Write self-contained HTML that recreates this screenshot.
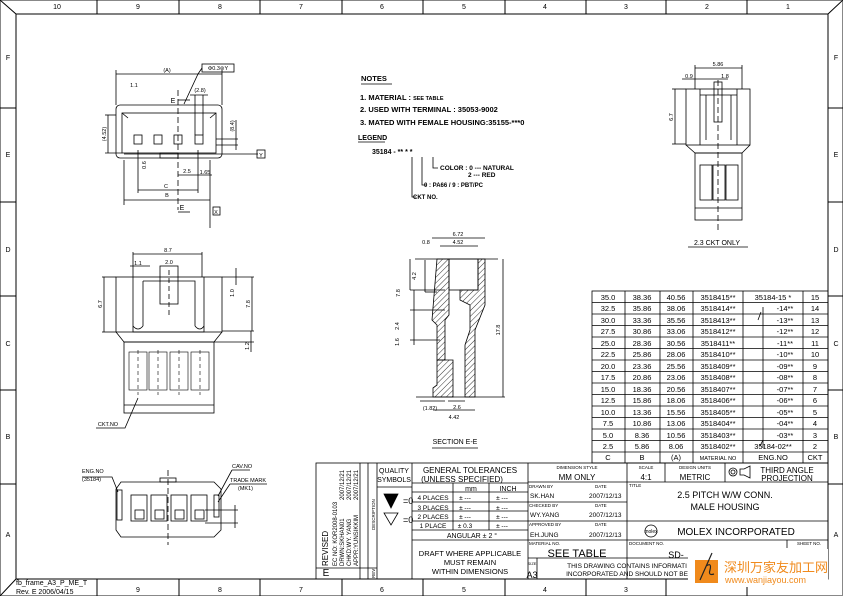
<!DOCTYPE html>
<html><head><meta charset="utf-8"><style>
html,body{margin:0;padding:0;background:#fff;}
svg{display:block;font-family:"Liberation Sans",sans-serif;}
text{fill:#000;}
</style></head><body>
<svg width="843" height="596" viewBox="0 0 843 596" xmlns="http://www.w3.org/2000/svg">
<defs>
<pattern id="h" width="4" height="4" patternUnits="userSpaceOnUse" patternTransform="rotate(45)"><line x1="0" y1="0" x2="0" y2="4" stroke="#000" stroke-width="0.8"/></pattern>
</defs>
<g stroke="#000" fill="none" stroke-width="1">
<rect x="0.5" y="0.5" width="842" height="595" stroke="#888"/>
<rect x="16" y="14" width="812" height="565"/>
<line x1="0" y1="0" x2="16" y2="14"/><line x1="843" y1="0" x2="828" y2="14"/>
<line x1="0" y1="596" x2="16" y2="579"/>
<line x1="97" y1="0" x2="97" y2="14"/><line x1="179" y1="0" x2="179" y2="14"/><line x1="260" y1="0" x2="260" y2="14"/><line x1="342" y1="0" x2="342" y2="14"/><line x1="423" y1="0" x2="423" y2="14"/><line x1="505" y1="0" x2="505" y2="14"/><line x1="586" y1="0" x2="586" y2="14"/><line x1="666" y1="0" x2="666" y2="14"/><line x1="747" y1="0" x2="747" y2="14"/>
<line x1="97" y1="579" x2="97" y2="596"/><line x1="179" y1="579" x2="179" y2="596"/><line x1="260" y1="579" x2="260" y2="596"/><line x1="342" y1="579" x2="342" y2="596"/><line x1="423" y1="579" x2="423" y2="596"/><line x1="505" y1="579" x2="505" y2="596"/><line x1="586" y1="579" x2="586" y2="596"/><line x1="666" y1="579" x2="666" y2="596"/><line x1="747" y1="579" x2="747" y2="596"/>
<line x1="0" y1="108" x2="16" y2="108"/><line x1="0" y1="202" x2="16" y2="202"/><line x1="0" y1="296" x2="16" y2="296"/><line x1="0" y1="390" x2="16" y2="390"/><line x1="0" y1="484" x2="16" y2="484"/>
<line x1="828" y1="108" x2="843" y2="108"/><line x1="828" y1="202" x2="843" y2="202"/><line x1="828" y1="296" x2="843" y2="296"/><line x1="828" y1="390" x2="843" y2="390"/><line x1="828" y1="484" x2="843" y2="484"/>
</g>
<g font-size="7" text-anchor="middle">
<text x="57" y="9">10</text><text x="138" y="9">9</text><text x="220" y="9">8</text><text x="301" y="9">7</text><text x="382" y="9">6</text><text x="464" y="9">5</text><text x="545" y="9">4</text><text x="626" y="9">3</text><text x="707" y="9">2</text><text x="788" y="9">1</text>
<text x="138" y="592">9</text><text x="220" y="592">8</text><text x="301" y="592">7</text><text x="382" y="592">6</text><text x="464" y="592">5</text><text x="545" y="592">4</text><text x="626" y="592">3</text>
<text x="8" y="60">F</text><text x="8" y="157">E</text><text x="8" y="252">D</text><text x="8" y="346">C</text><text x="8" y="439">B</text><text x="8" y="537">A</text>
<text x="836" y="60">F</text><text x="836" y="157">E</text><text x="836" y="252">D</text><text x="836" y="346">C</text><text x="836" y="439">B</text><text x="836" y="537">A</text>
</g>
<text x="16" y="585" font-size="7">fb_frame_A3_P_ME_T</text>
<text x="16" y="594" font-size="7">Rev. E 2006/04/15</text>

<g font-size="7.5" font-weight="bold">
<text x="361" y="81">NOTES</text>
<text x="360" y="100">1. MATERIAL : <tspan font-size="5.5">SEE TABLE</tspan></text>
<text x="360" y="112">2. USED WITH TERMINAL : 35053-9002</text>
<text x="360" y="125">3. MATED WITH FEMALE HOUSING:35155-***0</text>
<text x="358" y="140" font-size="7">LEGEND</text>
<text x="372" y="154" font-size="7">35184 - ** * *</text>
<text x="440" y="170" font-size="6.5">COLOR : 0 --- NATURAL</text>
<text x="468" y="177" font-size="6.5">2 --- RED</text>
<text x="424" y="187" font-size="6">0 : PA66 / 9 : PBT/PC</text>
<text x="413" y="199" font-size="6">CKT NO.</text>
</g>
<g stroke="#000" fill="none" stroke-width="0.8">
<line x1="361" y1="84" x2="392" y2="84"/><line x1="358" y1="142" x2="385" y2="142"/>
<polyline points="433,157 433,168 438,168"/>
<polyline points="422,157 422,185 427,185"/><polyline points="412,157 412,197 416,197"/>
</g>

<g stroke="#000" fill="none" stroke-width="0.8">
<rect x="116" y="105" width="106" height="53" rx="4"/>
<rect x="122" y="113" width="94" height="40"/>
<line x1="122" y1="113" x2="128" y2="118"/><line x1="216" y1="113" x2="210" y2="118"/>
<rect x="134" y="135" width="8" height="9"/><rect x="154" y="135" width="8" height="9"/><rect x="174" y="135" width="8" height="9"/><rect x="195" y="135" width="8" height="9"/>
<rect x="160" y="153" width="18" height="5"/>
<line x1="178" y1="90" x2="178" y2="210" stroke-dasharray="6,3"/>
<line x1="116" y1="74" x2="222" y2="74"/><line x1="116" y1="70" x2="116" y2="105"/><line x1="222" y1="70" x2="222" y2="105"/>
<line x1="105" y1="115" x2="116" y2="115"/><line x1="108" y1="115" x2="108" y2="153"/><line x1="105" y1="153" x2="122" y2="153"/>
<line x1="124" y1="154" x2="258" y2="154"/>
<line x1="124" y1="200" x2="210" y2="200"/><line x1="124" y1="160" x2="124" y2="205"/><line x1="210" y1="160" x2="210" y2="228"/>
<line x1="138" y1="190" x2="198" y2="190"/><line x1="138" y1="150" x2="138" y2="193"/><line x1="198" y1="150" x2="198" y2="193"/>
<line x1="178" y1="175" x2="212" y2="175"/>
<line x1="216" y1="139" x2="238" y2="139"/><line x1="216" y1="145" x2="238" y2="145"/><line x1="236" y1="120" x2="236" y2="150"/>
<line x1="195" y1="95" x2="195" y2="135"/><line x1="203" y1="95" x2="203" y2="135"/><line x1="190" y1="95" x2="208" y2="95"/>
<polyline points="184,104 198,74 202,68"/>
<rect x="202" y="64" width="32" height="8"/>
<rect x="213" y="207" width="7" height="8"/><rect x="257" y="150" width="8" height="8"/>
<line x1="178" y1="212" x2="190" y2="212"/><line x1="178" y1="100" x2="190" y2="100"/>
</g>
<g font-size="5.5" text-anchor="middle">
<text x="167" y="72">(A)</text><text x="218" y="70">Φ0.3⊚Y</text><text x="134" y="87">1.1</text><text x="200" y="92">(2.8)</text>
<text x="173" y="103" font-size="7">E</text><text x="182" y="210" font-size="7">E</text>
<text x="167" y="197">B</text><text x="166" y="188">C</text><text x="187" y="173">2.5</text><text x="205" y="174">1.65</text>
<text x="261" y="157">Y</text><text x="216" y="214">X</text>
<text x="106" y="134" transform="rotate(-90 106 134)">(4.52)</text>
<text x="234" y="126" transform="rotate(-90 234 126)">(8.4)</text>
<text x="146" y="165" transform="rotate(-90 146 165)">0.6</text>
</g>

<g stroke="#000" fill="none" stroke-width="0.8">
<rect x="116" y="277" width="106" height="55"/>
<path d="M133 277 V332 H204 V277"/>
<path d="M143 281 H195 V326 M143 281 V326 M133 326 Q138 332 143 326 M195 326 Q200 332 204 326"/>
<rect x="160" y="266" width="18" height="38"/>
<line x1="169" y1="270" x2="169" y2="315" stroke-dasharray="5,3"/>
<path d="M116 332 L124 342 H214 L222 332"/>
<rect x="124" y="342" width="90" height="71"/>
<line x1="124" y1="405" x2="214" y2="405"/>
<g stroke-width="0.6">
<rect x="129" y="352" width="18" height="38"/><rect x="149" y="352" width="18" height="38"/><rect x="170" y="352" width="18" height="38"/><rect x="191" y="352" width="18" height="38"/>
<line x1="138" y1="350" x2="138" y2="395" stroke-dasharray="4,3"/><line x1="158" y1="350" x2="158" y2="395" stroke-dasharray="4,3"/><line x1="179" y1="350" x2="179" y2="395" stroke-dasharray="4,3"/><line x1="200" y1="350" x2="200" y2="395" stroke-dasharray="4,3"/>
</g>
<line x1="133" y1="254" x2="202" y2="254"/><line x1="133" y1="252" x2="133" y2="277"/><line x1="202" y1="252" x2="202" y2="277"/>
<line x1="130" y1="266" x2="150" y2="266"/>
<line x1="102" y1="277" x2="116" y2="277"/><line x1="102" y1="332" x2="116" y2="332"/><line x1="104" y1="277" x2="104" y2="332"/>
<line x1="222" y1="277" x2="254" y2="277"/><line x1="222" y1="331" x2="254" y2="331"/><line x1="252" y1="277" x2="252" y2="331"/>
<line x1="214" y1="342" x2="254" y2="342"/><line x1="251" y1="331" x2="251" y2="352"/><line x1="236" y1="268" x2="236" y2="285"/>
<polyline points="96,428 125,428 138,398"/>
</g>
<g font-size="5.5" text-anchor="middle">
<text x="168" y="252">8.7</text><text x="138" y="265">1.1</text><text x="169" y="264">2.0</text>
<text x="102" y="304" transform="rotate(-90 102 304)">6.7</text>
<text x="250" y="304" transform="rotate(-90 250 304)">7.8</text>
<text x="234" y="293" transform="rotate(-90 234 293)">1.0</text>
<text x="249" y="346" transform="rotate(-90 249 346)">1.2</text>
<text x="108" y="426">CKT.NO</text>
</g>

<g stroke="#000" stroke-width="0.8">
<path d="M437 259 H449 V315 L445 320 V360 H437 V325 L432 320 Z" fill="url(#h)"/>
<path d="M478 259 H485 V305 L475 330 V397 H465 L465 345 L470 330 L470 305 L460 300 V290 H478 Z" fill="url(#h)"/>
<path d="M445 360 H453 V397 H433 V388 L437 385 V360 Z" fill="url(#h)"/>
<rect x="449" y="259" width="29" height="31" fill="none"/>
<line x1="415" y1="259" x2="498" y2="259" fill="none"/>
<line x1="416" y1="397" x2="505" y2="397" fill="none"/>
<line x1="432" y1="238" x2="485" y2="238"/><line x1="440" y1="246" x2="478" y2="246"/>
<line x1="503" y1="259" x2="503" y2="397"/>
<line x1="410" y1="259" x2="410" y2="290"/><line x1="410" y1="290" x2="445" y2="290"/>
<line x1="414" y1="290" x2="414" y2="345"/><line x1="410" y1="310" x2="445" y2="310"/><line x1="410" y1="340" x2="440" y2="340"/>
<line x1="425" y1="260" x2="425" y2="292"/><line x1="425" y1="292" x2="437" y2="292"/>
<line x1="433" y1="410" x2="475" y2="410"/><line x1="448" y1="401" x2="465" y2="401"/><line x1="420" y1="401" x2="445" y2="401"/>
<line x1="432" y1="448" x2="478" y2="448"/>
</g>
<g font-size="5.5" text-anchor="middle">
<text x="458" y="236">6.72</text><text x="458" y="244">4.52</text><text x="426" y="244">0.8</text>
<text x="416" y="276" transform="rotate(-90 416 276)">4.2</text>
<text x="400" y="293" transform="rotate(-90 400 293)">7.8</text>
<text x="399" y="326" transform="rotate(-90 399 326)">2.4</text>
<text x="399" y="342" transform="rotate(-90 399 342)">1.6</text>
<text x="500" y="330" transform="rotate(-90 500 330)">17.8</text>
<text x="430" y="410">(1.82)</text><text x="457" y="409">2.6</text><text x="454" y="419">4.42</text>
<text x="455" y="444" font-size="7">SECTION E-E</text>
</g>

<g stroke="#000" fill="none" stroke-width="0.8">
<rect x="686" y="89" width="64" height="56"/>
<path d="M700 89 V145 M737 89 V145 M700 95 H737 M706 95 V140 M731 95 V140"/>
<rect x="714" y="82" width="8" height="40"/>
<line x1="718" y1="80" x2="718" y2="230" stroke-dasharray="6,3"/>
<path d="M686 145 L695 153 H742 L750 145"/>
<rect x="695" y="153" width="47" height="67"/><line x1="695" y1="208" x2="742" y2="208"/>
<rect x="700" y="165" width="12" height="35"/><rect x="713" y="165" width="12" height="35"/><rect x="726" y="165" width="12" height="35"/>
<line x1="695" y1="68" x2="742" y2="68"/><line x1="695" y1="65" x2="695" y2="89"/><line x1="742" y1="65" x2="742" y2="89"/>
<line x1="682" y1="79" x2="728" y2="79"/>
<line x1="672" y1="89" x2="686" y2="89"/><line x1="672" y1="144" x2="686" y2="144"/><line x1="675" y1="89" x2="675" y2="144"/>
<line x1="688" y1="247" x2="748" y2="247"/>
</g>
<g font-size="5.5" text-anchor="middle">
<text x="718" y="66">5.86</text><text x="689" y="78">0.9</text><text x="725" y="78">1.8</text>
<text x="673" y="117" transform="rotate(-90 673 117)">6.7</text>
<text x="717" y="245" font-size="7">2.3 CKT ONLY</text>
</g>

<g stroke="#000" fill="none" stroke-width="0.8">
<path d="M121 482 H214 L221 489 V530 L214 537 H121 L116 530 V489 Z"/>
<rect x="160" y="478" width="16" height="4"/>
<rect x="117" y="490" width="5" height="30"/><rect x="214" y="495" width="5" height="22"/>
<rect x="131" y="495" width="16" height="26"/><rect x="151" y="495" width="16" height="26"/><rect x="171" y="495" width="16" height="26"/><rect x="191" y="495" width="16" height="26"/>
<rect x="135" y="510" width="9" height="9"/><rect x="155" y="510" width="9" height="9"/><rect x="175" y="510" width="9" height="9"/><rect x="195" y="510" width="9" height="9"/>
<line x1="168" y1="470" x2="168" y2="545" stroke-dasharray="6,3"/>
<polyline points="82,477 112,477 118,492"/><polyline points="232,470 250,470"/><line x1="232" y1="470" x2="218" y2="496"/>
<polyline points="230,484 267,484"/><line x1="230" y1="484" x2="218" y2="502"/>
<line x1="205" y1="510" x2="238" y2="510"/><line x1="205" y1="523" x2="238" y2="523"/><line x1="235" y1="505" x2="235" y2="528"/>
</g>
<g font-size="5.5">
<text x="82" y="473">ENG.NO</text><text x="82" y="481">(35184)</text>
<text x="232" y="468">CAV.NO</text><text x="230" y="482">TRADE MARK</text><text x="238" y="490">(MK1)</text>
</g>

<g stroke="#000" fill="none" stroke-width="0.8">
<rect x="592" y="291" width="236" height="172"/>
<line x1="625" y1="291" x2="625" y2="463"/><line x1="660" y1="291" x2="660" y2="463"/><line x1="693" y1="291" x2="693" y2="463"/><line x1="743" y1="291" x2="743" y2="463"/><line x1="803" y1="291" x2="803" y2="463"/>
<path d="M592 302.5H828M592 314H828M592 325.5H828M592 337H828M592 348.5H828M592 360H828M592 371.5H828M592 383H828M592 394.5H828M592 406H828M592 417.5H828M592 429H828M592 440.5H828M592 452H828"/>
<line x1="761" y1="312" x2="758" y2="320"/><line x1="763" y1="307" x2="763" y2="448"/><line x1="763" y1="440" x2="760" y2="446"/>
</g>
<g font-size="7.5" text-anchor="middle">
<text x="608" y="300">35.0</text><text x="642" y="300">38.36</text><text x="676" y="300">40.56</text><text x="718" y="300">3518415**</text><text x="773" y="300">35184-15 *</text><text x="815" y="300">15</text>
<text x="608" y="311">32.5</text><text x="642" y="311">35.86</text><text x="676" y="311">38.06</text><text x="718" y="311">3518414**</text><text x="785" y="311">-14**</text><text x="815" y="311">14</text>
<text x="608" y="323">30.0</text><text x="642" y="323">33.36</text><text x="676" y="323">35.56</text><text x="718" y="323">3518413**</text><text x="785" y="323">-13**</text><text x="815" y="323">13</text>
<text x="608" y="334">27.5</text><text x="642" y="334">30.86</text><text x="676" y="334">33.06</text><text x="718" y="334">3518412**</text><text x="785" y="334">-12**</text><text x="815" y="334">12</text>
<text x="608" y="346">25.0</text><text x="642" y="346">28.36</text><text x="676" y="346">30.56</text><text x="718" y="346">3518411**</text><text x="785" y="346">-11**</text><text x="815" y="346">11</text>
<text x="608" y="357">22.5</text><text x="642" y="357">25.86</text><text x="676" y="357">28.06</text><text x="718" y="357">3518410**</text><text x="785" y="357">-10**</text><text x="815" y="357">10</text>
<text x="608" y="369">20.0</text><text x="642" y="369">23.36</text><text x="676" y="369">25.56</text><text x="718" y="369">3518409**</text><text x="785" y="369">-09**</text><text x="815" y="369">9</text>
<text x="608" y="380">17.5</text><text x="642" y="380">20.86</text><text x="676" y="380">23.06</text><text x="718" y="380">3518408**</text><text x="785" y="380">-08**</text><text x="815" y="380">8</text>
<text x="608" y="392">15.0</text><text x="642" y="392">18.36</text><text x="676" y="392">20.56</text><text x="718" y="392">3518407**</text><text x="785" y="392">-07**</text><text x="815" y="392">7</text>
<text x="608" y="403">12.5</text><text x="642" y="403">15.86</text><text x="676" y="403">18.06</text><text x="718" y="403">3518406**</text><text x="785" y="403">-06**</text><text x="815" y="403">6</text>
<text x="608" y="415">10.0</text><text x="642" y="415">13.36</text><text x="676" y="415">15.56</text><text x="718" y="415">3518405**</text><text x="785" y="415">-05**</text><text x="815" y="415">5</text>
<text x="608" y="426">7.5</text><text x="642" y="426">10.86</text><text x="676" y="426">13.06</text><text x="718" y="426">3518404**</text><text x="785" y="426">-04**</text><text x="815" y="426">4</text>
<text x="608" y="438">5.0</text><text x="642" y="438">8.36</text><text x="676" y="438">10.56</text><text x="718" y="438">3518403**</text><text x="785" y="438">-03**</text><text x="815" y="438">3</text>
<text x="608" y="449">2.5</text><text x="642" y="449">5.86</text><text x="676" y="449">8.06</text><text x="718" y="449">3518402**</text><text x="773" y="449">35184-02**</text><text x="815" y="449">2</text>
<text x="608" y="460">C</text><text x="642" y="460">B</text><text x="676" y="460">(A)</text><text x="718" y="460" font-size="5.5">MATERIAL NO</text><text x="773" y="460">ENG.NO</text><text x="815" y="460">CKT</text>
</g>

<g stroke="#000" fill="none" stroke-width="0.8">
<rect x="316" y="463" width="512" height="116"/>
<line x1="360" y1="463" x2="360" y2="579"/><line x1="368" y1="463" x2="368" y2="579"/><line x1="377" y1="463" x2="377" y2="579"/>
<line x1="412" y1="463" x2="412" y2="579"/><line x1="528" y1="463" x2="528" y2="579"/><line x1="627" y1="463" x2="627" y2="579"/>
<line x1="665" y1="463" x2="665" y2="482"/><line x1="725" y1="463" x2="725" y2="482"/>
<line x1="377" y1="487" x2="412" y2="487"/>
<line x1="528" y1="482" x2="828" y2="482"/><line x1="528" y1="502" x2="627" y2="502"/><line x1="528" y1="521" x2="828" y2="521"/><line x1="528" y1="540" x2="828" y2="540"/>
<line x1="316" y1="568" x2="377" y2="568"/>
<line x1="412" y1="483" x2="528" y2="483"/><line x1="453" y1="483" x2="453" y2="530"/><line x1="489" y1="483" x2="489" y2="530"/>
<line x1="412" y1="492" x2="528" y2="492"/><line x1="412" y1="502" x2="528" y2="502"/><line x1="412" y1="511" x2="528" y2="511"/><line x1="412" y1="521" x2="528" y2="521"/><line x1="412" y1="530" x2="528" y2="530"/><line x1="412" y1="540" x2="528" y2="540"/>
<line x1="528" y1="558" x2="740" y2="558"/><line x1="537" y1="558" x2="537" y2="579"/>
<line x1="787" y1="540" x2="787" y2="548"/>
<circle cx="651" cy="531" r="6"/>
<circle cx="733" cy="472" r="4"/><circle cx="733" cy="472" r="2"/>
<path d="M740 469 H744 L750 466 V478 L744 475 H740 Z"/>
<polygon points="384,494 398,494 391,508" fill="#000"/>
<polygon points="384,513 398,513 391,525"/>
</g>
<g font-size="7" text-anchor="middle">
<text x="394" y="473">QUALITY</text><text x="394" y="482">SYMBOLS</text>
<text x="403" y="504" font-size="9" text-anchor="start">=0</text><text x="403" y="523" font-size="9" text-anchor="start">=0</text>
<text x="470" y="473" font-size="8">GENERAL TOLERANCES</text><text x="462" y="482" font-size="8">(UNLESS SPECIFIED)</text>
<text x="471" y="491">mm</text><text x="508" y="491">INCH</text>
<text x="433" y="500" font-size="6.5">4 PLACES</text><text x="433" y="510" font-size="6.5">3 PLACES</text><text x="433" y="519" font-size="6.5">2 PLACES</text><text x="433" y="528" font-size="6.5">1 PLACE</text>
<text x="465" y="500" font-size="6.5">± ---</text><text x="465" y="510" font-size="6.5">± ---</text><text x="465" y="519" font-size="6.5">± ---</text><text x="465" y="528" font-size="6.5">± 0.3</text>
<text x="502" y="500" font-size="6.5">± ---</text><text x="502" y="510" font-size="6.5">± ---</text><text x="502" y="519" font-size="6.5">± ---</text><text x="502" y="528" font-size="6.5">± ---</text>
<text x="472" y="538">ANGULAR ± 2 °</text>
<text x="470" y="556" font-size="7.5">DRAFT WHERE APPLICABLE</text><text x="470" y="565" font-size="7.5">MUST REMAIN</text><text x="470" y="574" font-size="7.5">WITHIN DIMENSIONS</text>
<text x="577" y="469" font-size="4.5">DIMENSION STYLE</text><text x="577" y="480" font-size="8">MM ONLY</text>
<text x="646" y="469" font-size="4.5">SCALE</text><text x="646" y="480" font-size="8">4:1</text>
<text x="695" y="469" font-size="4.5">DESIGN UNITS</text><text x="695" y="480" font-size="8">METRIC</text>
<text x="787" y="473" font-size="8">THIRD ANGLE</text><text x="787" y="481" font-size="8">PROJECTION</text>
<text x="725" y="498" font-size="9">2.5 PITCH W/W CONN.</text><text x="725" y="510" font-size="9">MALE HOUSING</text>
<text x="736" y="535" font-size="10">MOLEX INCORPORATED</text>
<text x="651" y="533" font-size="5">molex</text>
<text x="577" y="557" font-size="11">SEE TABLE</text>
<text x="676" y="558" font-size="9">SD-</text>
<text x="627" y="568" font-size="6.5">THIS DRAWING CONTAINS INFORMATI</text><text x="627" y="576" font-size="6.5">INCORPORATED AND SHOULD NOT BE</text>
<text x="532" y="565" font-size="4">SIZE</text><text x="532" y="578" font-size="9">A3</text>
<text x="326" y="576" font-size="10">E</text>
</g>
<g font-size="4.5">
<text x="529" y="488">DRAWN BY</text><text x="595" y="488">DATE</text>
<text x="529" y="507">CHECKED BY</text><text x="595" y="507">DATE</text>
<text x="529" y="526">APPROVED BY</text><text x="595" y="526">DATE</text>
<text x="529" y="545">MATERIAL NO.</text><text x="629" y="545">DOCUMENT NO.</text><text x="797" y="545">SHEET NO.</text>
<text x="629" y="487">TITLE</text>
</g>
<g font-size="6.5">
<text x="530" y="498">SK.HAN</text><text x="589" y="498">2007/12/13</text>
<text x="530" y="517">WY.YANG</text><text x="589" y="517">2007/12/13</text>
<text x="530" y="537">EH.JUNG</text><text x="589" y="537">2007/12/13</text>
</g>
<g font-size="6">
<text transform="translate(328 566) rotate(-90)" font-size="8">REVISED</text>
<text transform="translate(337 566) rotate(-90)">EC NO: KOR2008-0103</text>
<text transform="translate(344 566) rotate(-90)">DRWN:SKHAN01</text>
<text transform="translate(351 566) rotate(-90)">CHKD:WY. YANG</text>
<text transform="translate(358 566) rotate(-90)">APPR:YUNSIKKIM</text>
<text transform="translate(344 500) rotate(-90)">2007/12/21</text>
<text transform="translate(351 500) rotate(-90)">2007/12/21</text>
<text transform="translate(358 500) rotate(-90)">2007/12/21</text>
<text transform="translate(375 530) rotate(-90)" font-size="4.5">DESCRIPTION</text>
<text transform="translate(375 578) rotate(-90)" font-size="4.5">REV</text>
</g>

<rect x="688" y="549" width="140" height="38" fill="#fff"/>
<rect x="695" y="560" width="23" height="23" fill="#f08a1c"/>
<path d="M712 553 L700 580 M706 566 q6 -4 4 4 q-2 6 4 4" stroke="#222" fill="none" stroke-width="1.2"/>
<text x="724" y="572" font-size="13" style="fill:#f08a1c;font-family:'Noto Sans CJK SC',sans-serif">深圳万家友加工网</text>
<text x="725" y="583" font-size="9" style="fill:#f08a1c">www.wanjiayou.com</text>
</svg>
</body></html>
